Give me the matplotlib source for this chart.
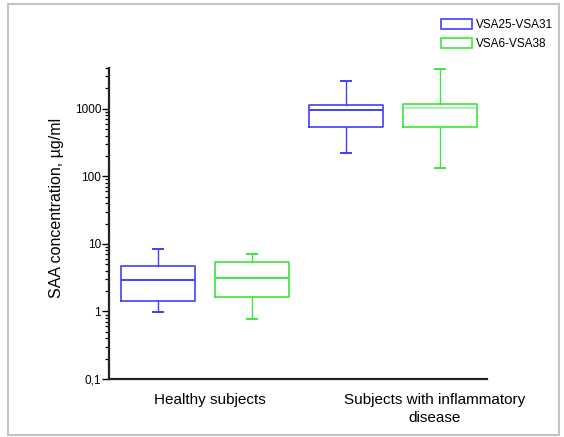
import matplotlib
matplotlib.use("Agg")
import matplotlib.pyplot as plt
from matplotlib.patches import Patch, Rectangle
from matplotlib.ticker import LogLocator, FixedLocator, FixedFormatter, NullFormatter

plt.rcParams['font.family'] = ['Liberation Sans', 'DejaVu Sans']

# ---- data ----
groups = ["Healthy subjects", "Subjects with inflammatory\ndisease"]
series = ["VSA25-VSA31", "VSA6-VSA38"]
colors = ["#4040ff", "#3ce63c"]

# per series: [healthy, disease]
whislo = {"VSA25-VSA31": [0.99, 220], "VSA6-VSA38": [0.78, 132]}
q1     = {"VSA25-VSA31": [1.43, 532], "VSA6-VSA38": [1.64, 532]}
med    = {"VSA25-VSA31": [2.87, 944], "VSA6-VSA38": [3.15, 1023]}
q3     = {"VSA25-VSA31": [4.75, 1122], "VSA6-VSA38": [5.45, 1188]}
whishi = {"VSA25-VSA31": [8.4, 2530], "VSA6-VSA38": [7.1, 3864]}

ytick_vals = [0.1, 1, 10, 100, 1000]
ytick_labels = ["0,1", "1", "10", "100", "1000"]

fig = plt.figure(figsize=(5.64, 4.37), dpi=100)
ax = fig.add_axes([0.194, 0.1327, 0.6695, 0.7117])

for gi in range(len(groups)):
    for si, s in enumerate(series):
        pos = 1 + gi * 2 + si
        st = [dict(whislo=whislo[s][gi], q1=q1[s][gi], med=med[s][gi],
                   q3=q3[s][gi], whishi=whishi[s][gi], fliers=[])]
        c = colors[si]
        ax.bxp(st, positions=[pos], widths=0.79, capwidths=0.11,
               showfliers=False, patch_artist=False,
               boxprops=dict(color=c, linewidth=1.2),
               whiskerprops=dict(color=c, linewidth=1.0),
               capprops=dict(color=c, linewidth=1.4),
               medianprops=dict(color=c, linewidth=1.4,
                                alpha=0.45 if (gi == 1 and si == 1) else 1.0))

ax.set_yscale('log')
ax.set_ylim(0.1, 4000)
ax.set_xlim(0.479, 4.504)

ax.yaxis.set_major_locator(FixedLocator(ytick_vals))
ax.yaxis.set_major_formatter(FixedFormatter(ytick_labels))
ax.yaxis.set_minor_locator(LogLocator(base=10, subs=range(2, 10), numticks=20))
ax.yaxis.set_minor_formatter(NullFormatter())
ax.tick_params(axis='y', which='major', direction='out', length=5, width=1.0,
               labelsize=8.5, pad=1)
ax.tick_params(axis='y', which='minor', direction='out', length=3, width=0.9)

ax.set_xticks([1.547, 3.95])
ax.set_xticklabels(groups, fontsize=11, linespacing=1.35)
ax.tick_params(axis='x', length=0, pad=10)

for side in ('top', 'right'):
    ax.spines[side].set_visible(False)
for side in ('left', 'bottom'):
    ax.spines[side].set_linewidth(1.6)
    ax.spines[side].set_color('#222222')

ax.set_ylabel("SAA concentration, \u00b5g/ml", fontsize=11.5)
ax.yaxis.set_label_coords(-0.12, 0.55)

handles = [Patch(facecolor='white', edgecolor=c, linewidth=1.2) for c in colors]
fig.legend(handles, series, loc='upper left', bbox_to_anchor=(441 / 564, 1 - 19 / 437),
           frameon=False, fontsize=8.5, handlelength=2.6, handleheight=0.95,
           handletextpad=0.35, labelspacing=0.55, borderpad=0, borderaxespad=0)

fig.patches.append(Rectangle((8 / 564, 2 / 437), 551 / 564, 431 / 437,
                             transform=fig.transFigure, fill=False,
                             edgecolor='#c4c4c4', linewidth=1.5))

fig.savefig("out.png", dpi=100)
